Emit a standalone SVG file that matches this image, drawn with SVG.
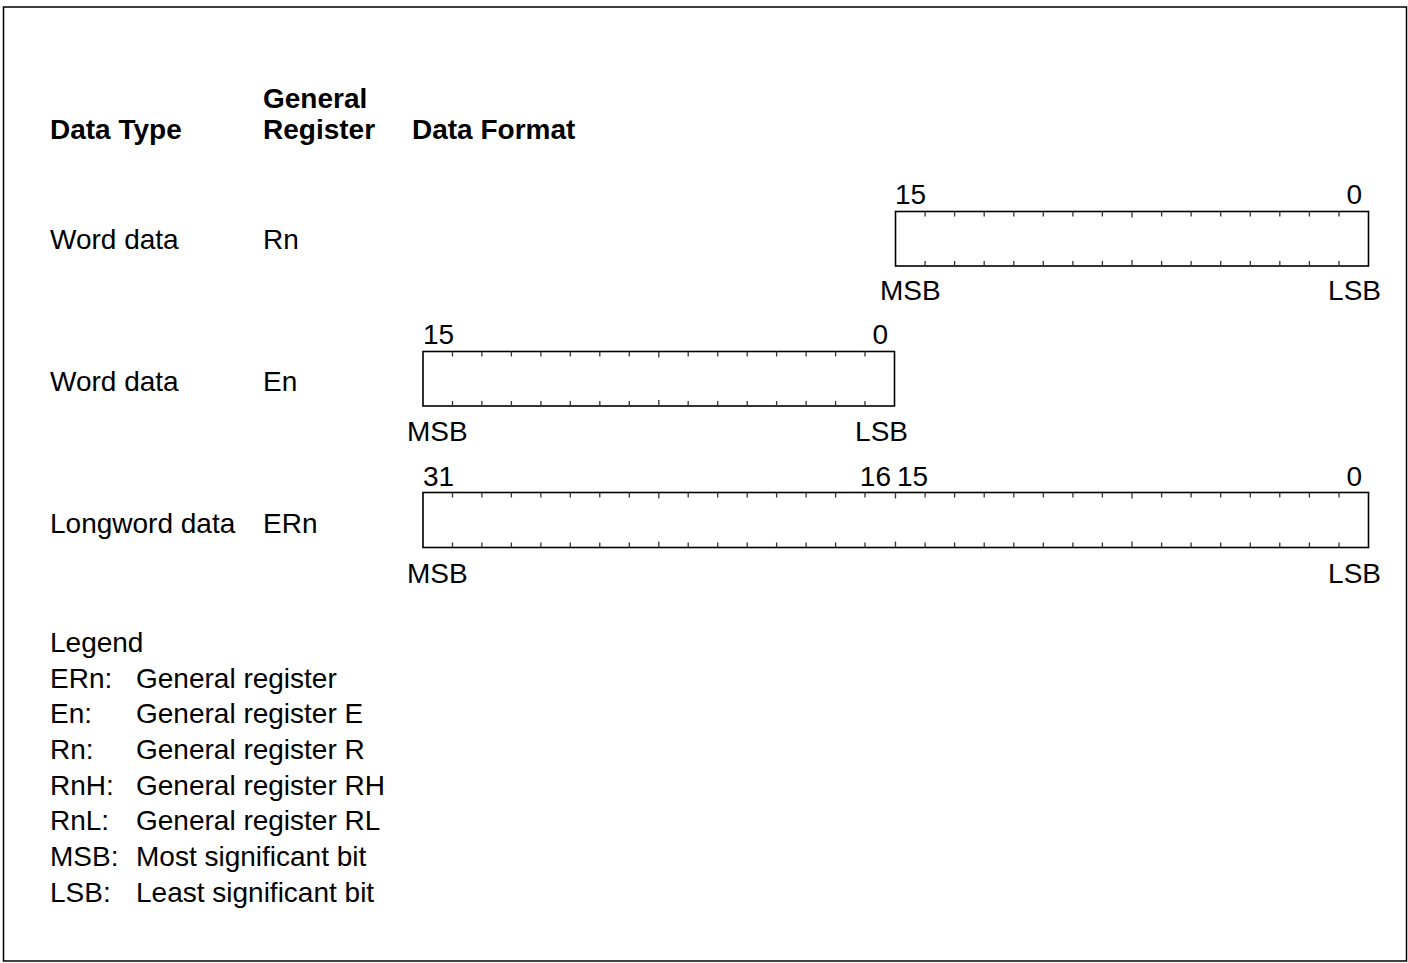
<svg xmlns="http://www.w3.org/2000/svg" width="1408" height="963" viewBox="0 0 1408 963">
<defs>
<style>
text{font-family:"Liberation Sans",Arial,sans-serif;font-size:28px;fill:#000}
.b{font-weight:bold}
.box{fill:#fff;stroke:#000;stroke-width:1.6}
.tk{stroke:#333;stroke-width:1.3}
.e{text-anchor:end}
</style>
</defs>
<rect x="3.5" y="7" width="1403" height="954" fill="#fff" stroke="#000" stroke-width="1.5"/>
<g id="headers">
<text class="b" x="50" y="139">Data Type</text>
<text class="b" x="263" y="108">General</text>
<text class="b" x="263" y="139">Register</text>
<text class="b" x="412" y="139">Data Format</text>
</g>
<g id="row-rn">
<text x="50" y="249">Word data</text>
<text x="263" y="249">Rn</text>
<rect class="box" x="895.5" y="211.5" width="473" height="54.5"/>
<path class="tk" d="M925.1 211.5v5M954.6 211.5v5M984.2 211.5v5M1013.8 211.5v5M1043.3 211.5v5M1072.9 211.5v5M1102.4 211.5v5M1132 211.5v6M1161.6 211.5v5M1191.1 211.5v5M1220.7 211.5v5M1250.3 211.5v5M1279.8 211.5v5M1309.4 211.5v5M1339 211.5v5M925.1 266v-5M954.6 266v-5M984.2 266v-5M1013.8 266v-5M1043.3 266v-5M1072.9 266v-5M1102.4 266v-5M1132 266v-6M1161.6 266v-5M1191.1 266v-5M1220.7 266v-5M1250.3 266v-5M1279.8 266v-5M1309.4 266v-5M1339 266v-5"/>
<text x="895" y="204">15</text>
<text class="e" x="1362" y="204">0</text>
<text x="880" y="300">MSB</text>
<text class="e" x="1381" y="300">LSB</text>
</g>
<g id="row-en">
<text x="50" y="391">Word data</text>
<text x="263" y="391">En</text>
<rect class="box" x="423" y="351.5" width="471.5" height="54.5"/>
<path class="tk" d="M452.5 351.5v5M481.9 351.5v5M511.4 351.5v5M540.9 351.5v5M570.3 351.5v5M599.8 351.5v5M629.3 351.5v5M658.8 351.5v6M688.2 351.5v5M717.7 351.5v5M747.2 351.5v5M776.6 351.5v5M806.1 351.5v5M835.6 351.5v5M865 351.5v5M452.5 406v-5M481.9 406v-5M511.4 406v-5M540.9 406v-5M570.3 406v-5M599.8 406v-5M629.3 406v-5M658.8 406v-6M688.2 406v-5M717.7 406v-5M747.2 406v-5M776.6 406v-5M806.1 406v-5M835.6 406v-5M865 406v-5"/>
<text x="423" y="344">15</text>
<text class="e" x="888" y="344">0</text>
<text x="407" y="441">MSB</text>
<text class="e" x="908" y="441">LSB</text>
</g>
<g id="row-ern">
<text x="50" y="533">Longword data</text>
<text x="263" y="533">ERn</text>
<rect class="box" x="423" y="492.5" width="945.5" height="55"/>
<path class="tk" d="M452.5 492.5v5M481.9 492.5v5M511.4 492.5v5M540.9 492.5v5M570.3 492.5v5M599.8 492.5v5M629.3 492.5v5M658.8 492.5v6M688.2 492.5v5M717.7 492.5v5M747.2 492.5v5M776.6 492.5v5M806.1 492.5v5M835.6 492.5v5M865 492.5v5M895.5 492.5v6M925.1 492.5v5M954.6 492.5v5M984.2 492.5v5M1013.8 492.5v5M1043.3 492.5v5M1072.9 492.5v5M1102.4 492.5v5M1132 492.5v6M1161.6 492.5v5M1191.1 492.5v5M1220.7 492.5v5M1250.3 492.5v5M1279.8 492.5v5M1309.4 492.5v5M1339 492.5v5M452.5 547.5v-5M481.9 547.5v-5M511.4 547.5v-5M540.9 547.5v-5M570.3 547.5v-5M599.8 547.5v-5M629.3 547.5v-5M658.8 547.5v-6M688.2 547.5v-5M717.7 547.5v-5M747.2 547.5v-5M776.6 547.5v-5M806.1 547.5v-5M835.6 547.5v-5M865 547.5v-5M895.5 547.5v-6M925.1 547.5v-5M954.6 547.5v-5M984.2 547.5v-5M1013.8 547.5v-5M1043.3 547.5v-5M1072.9 547.5v-5M1102.4 547.5v-5M1132 547.5v-6M1161.6 547.5v-5M1191.1 547.5v-5M1220.7 547.5v-5M1250.3 547.5v-5M1279.8 547.5v-5M1309.4 547.5v-5M1339 547.5v-5"/>
<text x="423" y="486">31</text>
<text class="e" x="891" y="486">16</text>
<text x="897" y="486">15</text>
<text class="e" x="1362" y="486">0</text>
<text x="407" y="583">MSB</text>
<text class="e" x="1381" y="583">LSB</text>
</g>
<g id="legend">
<text x="50" y="652">Legend</text>
<text x="50" y="688">ERn:</text><text x="136" y="688">General register</text>
<text x="50" y="723">En:</text><text x="136" y="723">General register E</text>
<text x="50" y="759">Rn:</text><text x="136" y="759">General register R</text>
<text x="50" y="795">RnH:</text><text x="136" y="795">General register RH</text>
<text x="50" y="830">RnL:</text><text x="136" y="830">General register RL</text>
<text x="50" y="866">MSB:</text><text x="136" y="866">Most significant bit</text>
<text x="50" y="902">LSB:</text><text x="136" y="902">Least significant bit</text>
</g>
</svg>
